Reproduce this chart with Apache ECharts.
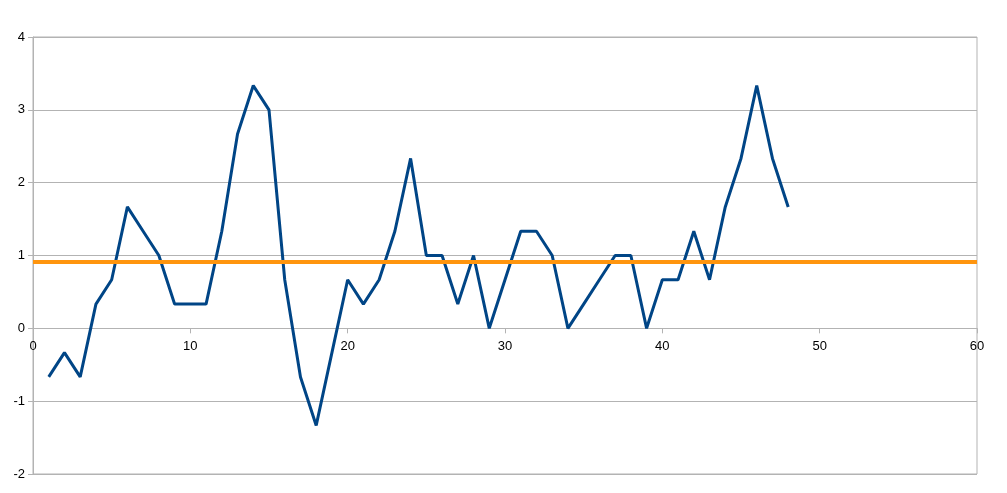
<!DOCTYPE html>
<html>
<head>
<meta charset="utf-8">
<script src="https://cdn.jsdelivr.net/npm/echarts@6/dist/echarts.min.js"></script>
<style>
html,body{margin:0;padding:0;background:#fff;}
#chart{width:1007px;height:493px;}
</style>
</head>
<body>
<div id="chart"></div>
<script>
const xValues = [1,2,3,4,5,6,7,8,9,10,11,12,13,14,15,16,17,18,19,20,21,22,23,24,25,26,27,28,29,30,31,32,33,34,35,36,37,38,39,40,41,42,43,44,45,46,47,48];
const yValues = [-0.667,-0.333,-0.667,0.333,0.667,1.667,1.333,1.0,0.333,0.333,0.333,1.333,2.667,3.333,3.0,0.667,-0.667,-1.333,-0.333,0.667,0.333,0.667,1.333,2.333,1.0,1.0,0.333,1.0,0,0.667,1.333,1.333,1.0,0,0.333,0.667,1.0,1.0,0,0.667,0.667,1.333,0.667,1.667,2.333,3.333,2.333,1.667];
const meanLineX = [0, 60];
const meanValue = 0.91;

const lineData = xValues.map((x, i) => [x, yValues[i]]);
const meanData = meanLineX.map(x => [x, meanValue]);

const gridTop = 37, gridBottom = 19, chartH = 493;
const yMin = -2, yMax = 4;
const plotH = chartH - gridTop - gridBottom;
const zeroOffset = -plotH * (0 - yMin) / (yMax - yMin);

const chart = echarts.init(document.getElementById('chart'), null, {renderer: 'canvas'});
chart.setOption({
  animation: false,
  backgroundColor: '#ffffff',
  textStyle: {fontFamily: 'Liberation Sans, Arial, sans-serif'},
  grid: {left: 33, right: 30, top: gridTop, bottom: gridBottom, show: true, borderColor: '#b3b3b3', borderWidth: 1, containLabel: false, outerBoundsMode: 'none'},
  xAxis: {
    type: 'value', min: 0, max: 60, interval: 10,
    position: 'bottom', offset: zeroOffset,
    axisLine: {show: true, onZero: false, lineStyle: {color: '#b3b3b3', width: 1}},
    axisTick: {show: true, length: 5, lineStyle: {color: '#b3b3b3'}},
    axisLabel: {color: '#000', fontSize: 13, margin: 12, fontFamily: 'Liberation Sans'},
    splitLine: {show: false}
  },
  yAxis: {
    type: 'value', min: yMin, max: yMax, interval: 1,
    axisLine: {show: true, lineStyle: {color: '#b3b3b3', width: 1}},
    axisTick: {show: true, length: 5, lineStyle: {color: '#b3b3b3'}},
    axisLabel: {color: '#000', fontSize: 13, margin: 8, fontFamily: 'Liberation Sans'},
    splitLine: {show: true, lineStyle: {color: '#b3b3b3', width: 1}}
  },
  series: [
    {
      type: 'line', data: lineData, showSymbol: false, symbol: 'none',
      lineStyle: {color: '#004586', width: 3}, z: 3
    },
    {
      type: 'line', data: meanData, showSymbol: false, symbol: 'none',
      lineStyle: {color: '#ff950e', width: 4}, z: 4
    }
  ]
});
</script>
</body>
</html>
